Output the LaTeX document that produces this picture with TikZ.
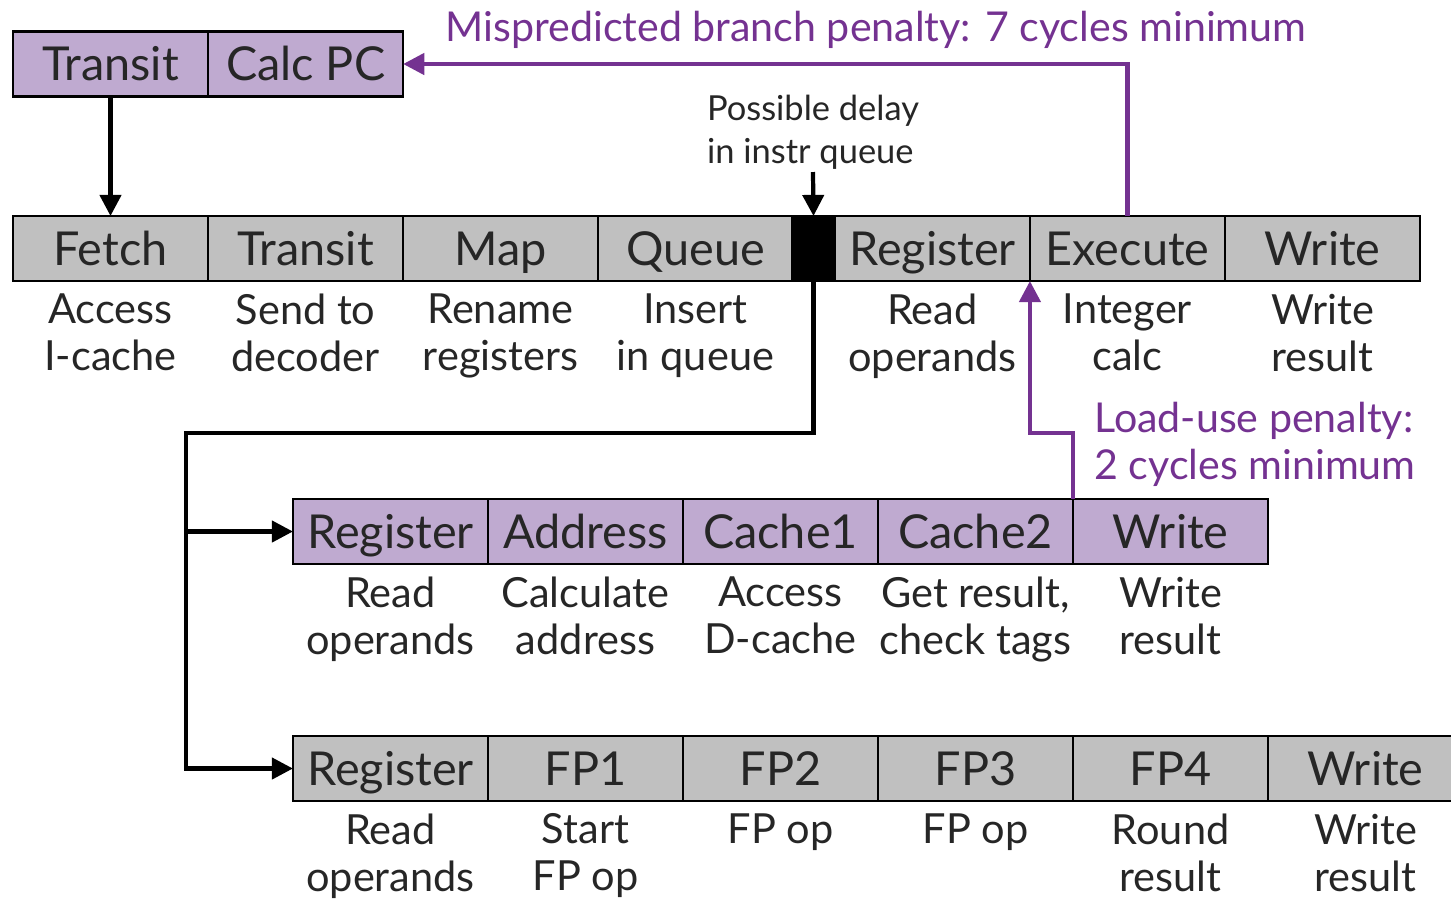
\documentclass[tikz,border=0pt]{standalone}
\usepackage{fontspec}
\setmainfont{Lato}
\usetikzlibrary{arrows.meta, positioning}

\definecolor{stagepurple}{RGB}{191,170,208}
\definecolor{stagegray}{RGB}{192,192,192}
\definecolor{penalty}{RGB}{116,50,145}

\tikzset{
  stage/.style={draw, line width=0.7pt, minimum width=1.95cm, minimum height=0.65cm,
    inner sep=0pt, outer sep=0pt, text height=9.4pt, text depth=0pt,
    text=black!85, font=\fontsize{13.3}{14}\selectfont},
  pstage/.style={stage, fill=stagepurple},
  gstage/.style={stage, fill=stagegray},
  note/.style={align=center, inner sep=0pt, text=black!85, font=\fontsize{11.8}{13.4}\selectfont},
  flow/.style={line width=1.2pt, -{Triangle[length=6pt,width=6pt]}},
  pflow/.style={flow, draw=penalty},
  ptext/.style={text=penalty, align=left, font=\fontsize{11.7}{13.4}\selectfont}
}

\begin{document}
\begin{tikzpicture}[x=0.01cm, y=-0.01cm]
  \useasboundingbox (0,0) rectangle (1451,914);
  % fetch unit
  \node[pstage] (ftransit) at (110.5,64) {Transit};
  \node[pstage, right=0pt of ftransit] (calcpc) {Calc PC};
  % integer pipeline
  \foreach \nm/\st/\la/\lb [count=\i from 0] in {fetch/Fetch/Access/I-cache,
      transit/Transit/Send to/decoder, map/Map/Rename/registers, queue/Queue/Insert/in queue}
  {
    \node[gstage] (\nm) at (110.5+195*\i,248.5) {\st};
    \node[note, below=0.12cm of \nm] (\nm-n) {\la\\\lb};
  }
  \node[stage, fill=black, minimum width=0.43cm] (hold) at (813.5,248.5) {};
  \foreach \nm/\st/\la/\lb [count=\i from 0] in {ireg/Register/Read/operands,
      exec/Execute/Integer/calc, iwrite/Write/Write/result}
  {
    \node[gstage] (\nm) at (932.5+195*\i,248.5) {\st};
    \node[note, below=0.12cm of \nm] (\nm-n) {\la\\\lb};
  }
  % load pipeline
  \foreach \nm/\st/\la/\lb [count=\i from 0] in {lreg/Register/Read/operands,
      addr/Address/Calculate/address, cache1/Cache1/Access/D-cache,
      cache2/Cache2/{Get result,}/check tags, lwrite/Write/Write/result}
  {
    \node[pstage] (\nm) at (390.5+195*\i,531.5) {\st};
    \node[note, below=0.12cm of \nm] (\nm-n) {\la\\\lb};
  }
  % floating point pipeline
  \foreach \nm/\st/\la/\lb [count=\i from 0] in {freg/Register/Read/operands,
      fp1/FP1/Start/FP op, fp2/FP2/FP op/{}, fp3/FP3/FP op/{}, fp4/FP4/Round/result,
      fwrite/Write/Write/result}
  {
    \node[gstage] (\nm) at (390.5+195*\i,768.5) {\st};
    \node[note, below=0.12cm of \nm] (\nm-n) {\la\\\lb};
  }
  % annotations
  \node[note, align=left, font=\fontsize{9.8}{12.2}\selectfont] (delay) at (813,132)
    {Possible delay\\in instr queue};
  \node[ptext] (mispen) at (876,30) {Mispredicted branch penalty: 7 cycles minimum};
  \node[ptext] (loadpen) at (1255,444) {Load-use penalty:\\2 cycles minimum};
  \coordinate (delaytip) at (813,172);
  \coordinate (split) at (186,433);
  % connectors
  \draw[flow] (ftransit.south) -- (fetch.north);
  \draw[flow] (delaytip) -- (hold.north);
  \draw[pflow] (exec.north) |- (calcpc.east);
  \draw[flow] (hold.south) |- (split) |- (lreg.west);
  \draw[flow] (split) |- (freg.west);
  \draw[pflow] (lwrite.north west) |- (exec.south west |- split) -- (exec.south west);
\end{tikzpicture}
\end{document}
